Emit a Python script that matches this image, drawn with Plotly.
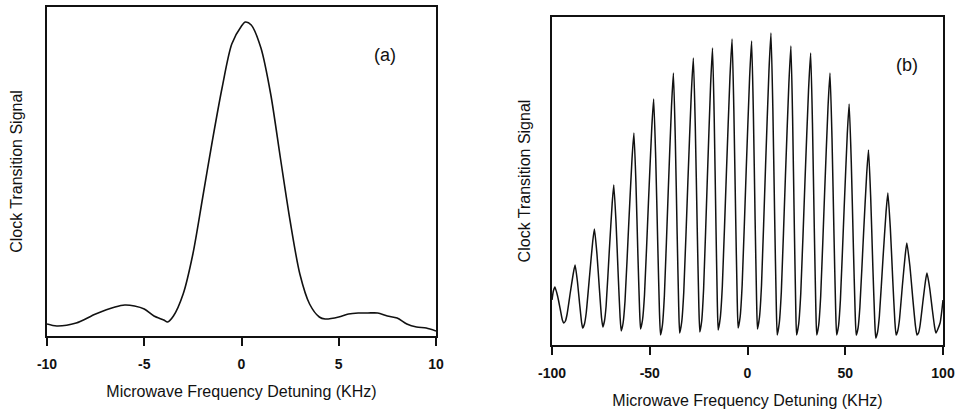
import plotly.graph_objects as go

# Panel (a): single-pulse resonance, detuning in kHz, signal in arbitrary units
a_x = [-10, -9.5, -8.5, -7.5, -6.5, -6, -5.5, -5, -4.5, -4, -3.8, -3.5, -3, -2.5, -2, -1.5,
       -1, -0.5, 0, 0.2, 0.5, 1, 1.5, 2, 2.5, 3, 3.5, 4, 4.3, 5, 5.5, 6, 6.5, 7, 7.5, 8,
       8.5, 9, 9.5, 10]
a_y = [12, 10, 13, 22, 29, 31, 30, 27, 20, 16, 14, 20, 42, 82, 138, 195,
       248, 292, 310, 314, 311, 288, 242, 178, 115, 62, 32, 19, 17, 19, 22, 23, 23, 23, 20, 18,
       12, 9, 8, 5]

# Panel (b): Ramsey fringes, detuning in kHz, signal in arbitrary units
b_x = [-100, -99.3, -98.5, -97.15, -95.8, -94.7,
       -94.0, -93.13, -92.26, -90.52, -89.07, -88.2, -87.03, -85.86, -84.89,
       -84.3, -83.4, -82.5, -80.7, -79.2, -78.3, -77.01, -75.72, -74.65,
       -74.0, -73.16, -72.32, -70.64, -69.24, -68.4, -67.26, -66.12, -65.17,
       -64.6, -63.63, -62.65, -60.7, -59.08, -58.1, -57.08, -56.06, -55.21,
       -54.7, -53.7, -52.69, -50.68, -49.0, -48.0, -46.95, -45.9, -45.03,
       -44.5, -43.51, -42.52, -40.54, -38.89, -37.9, -36.94, -35.98, -35.18,
       -34.7, -33.65, -32.6, -30.5, -28.75, -27.7, -26.71, -25.72, -24.9,
       -24.4, -23.43, -22.45, -20.5, -18.88, -17.9, -17.03, -16.16, -15.44,
       -15.0, -13.94, -12.87, -10.74, -8.97, -7.9, -6.97, -6.04, -5.27,
       -4.8, -3.77, -2.73, -0.66, 1.07, 2.1, 3.0, 3.9, 4.65,
       5.1, 6.14, 7.17, 9.24, 10.97, 12.0, 12.96, 13.92, 14.72,
       15.2, 16.25, 17.3, 19.4, 21.15, 22.2, 23.07, 23.94, 24.67,
       25.1, 26.18, 27.26, 29.42, 31.22, 32.3, 33.23, 34.16, 34.94,
       35.4, 36.42, 37.44, 39.48, 41.18, 42.2, 43.22, 44.24, 45.09,
       45.6, 46.56, 47.52, 49.44, 51.04, 52.0, 53.08, 54.16, 55.06,
       55.6, 56.55, 57.49, 59.38, 60.96, 61.9, 63.01, 64.12, 65.05,
       65.6, 66.53, 67.46, 69.32, 70.87, 71.8, 73.06, 74.32, 75.37,
       76.0, 76.83, 77.65, 79.3, 80.68, 81.5, 83.06, 84.62, 85.92,
       86.7, 87.47, 88.23, 89.76, 91.04, 91.8, 93.18, 94.56, 95.71,
       96.4, 98.5, 100]
b_y = [45, 54, 58, 49, 36, 25,
       22, 24, 31, 54, 72, 80, 64, 41, 23,
       17, 21, 32, 71, 103, 116, 91, 55, 27,
       18, 24, 39, 96, 141, 160, 123, 69, 28,
       14, 22, 44, 123, 186, 212, 163, 90, 36,
       16, 25, 50, 142, 216, 246, 187, 100, 33,
       10, 20, 49, 154, 238, 272, 207, 111, 38,
       12, 23, 53, 163, 251, 287, 219, 117, 40,
       13, 24, 56, 169, 260, 297, 227, 122, 43,
       15, 27, 59, 175, 268, 306, 234, 127, 46,
       17, 28, 60, 175, 267, 304, 232, 125, 45,
       16, 28, 60, 179, 274, 312, 237, 125, 40,
       10, 22, 53, 169, 261, 299, 227, 120, 39,
       10, 21, 52, 165, 255, 292, 222, 117, 38,
       10, 20, 49, 154, 238, 272, 207, 110, 36,
       10, 19, 45, 137, 211, 241, 183, 98, 33,
       10, 17, 38, 112, 171, 195, 148, 78, 26,
       7, 13, 29, 87, 133, 152, 117, 64, 24,
       10, 14, 24, 61, 90, 102, 79, 45, 19,
       10, 12, 19, 44, 64, 72, 57, 35, 18,
       12, 22, 45]

a_tickvals = [-10, -5, 0, 5, 10]
a_ticktext = ["-10", "-5", "0", "5", "10"]
b_tickvals = [-100, -50, 0, 50, 100]
b_ticktext = ["-100", "-50", "0", "50", "100"]

W, H = 955, 415
INK = "#111111"
FONT = "Liberation Sans, Arial, sans-serif"

fig = go.Figure()
fig.add_trace(go.Scatter(x=a_x, y=a_y, mode="lines",
                         line=dict(color=INK, width=1.6, shape="spline", smoothing=0.8),
                         xaxis="x", yaxis="y", showlegend=False))
fig.add_trace(go.Scatter(x=b_x, y=b_y, mode="lines",
                         line=dict(color=INK, width=1.5, shape="spline", smoothing=0.5),
                         xaxis="x2", yaxis="y2", showlegend=False))


def px(v):
    return v / W


def py(v):
    return 1 - v / H


xcommon = dict(showgrid=False, zeroline=False, showline=True, linecolor=INK, linewidth=1.6,
               mirror=True, ticks="outside", ticklen=8, tickwidth=1.6, tickcolor=INK,
               ticklabelstandoff=6, automargin=False,
               tickfont=dict(family=FONT, size=14, color=INK, weight="bold"),
               title_font=dict(family=FONT, size=16, color=INK))
ycommon = dict(showgrid=False, zeroline=False, showline=True, linecolor=INK, linewidth=1.6,
               mirror=True, ticks="", showticklabels=False, automargin=False,
               title_font=dict(family=FONT, size=16, color=INK))

fig.update_layout(
    width=W, height=H, margin=dict(l=0, r=0, t=0, b=0),
    paper_bgcolor="white", plot_bgcolor="white",
    xaxis=dict(domain=[px(47), px(436)], range=[-10, 10], tickvals=a_tickvals, ticktext=a_ticktext,
               anchor="y", title=dict(text="Microwave Frequency Detuning (KHz)", standoff=15), **xcommon),
    yaxis=dict(domain=[py(336), py(7)], range=[0, 329], anchor="x",
               title=dict(text="Clock Transition Signal", standoff=19), **ycommon),
    xaxis2=dict(domain=[px(552), px(943)], range=[-100, 100], tickvals=b_tickvals, ticktext=b_ticktext,
                anchor="y2", title=dict(text="Microwave Frequency Detuning (KHz)", standoff=15), **xcommon),
    yaxis2=dict(domain=[py(345), py(17)], range=[0, 328], anchor="x2",
                title=dict(text="Clock Transition Signal", standoff=16), **ycommon),
    annotations=[
        dict(text="(a)", x=px(385), y=py(55), xref="paper", yref="paper", showarrow=False,
             xanchor="center", yanchor="middle", font=dict(family=FONT, size=18, color=INK)),
        dict(text="(b)", x=px(907), y=py(65), xref="paper", yref="paper", showarrow=False,
             xanchor="center", yanchor="middle", font=dict(family=FONT, size=18, color=INK)),
    ],
)

fig.write_html("out.html")
